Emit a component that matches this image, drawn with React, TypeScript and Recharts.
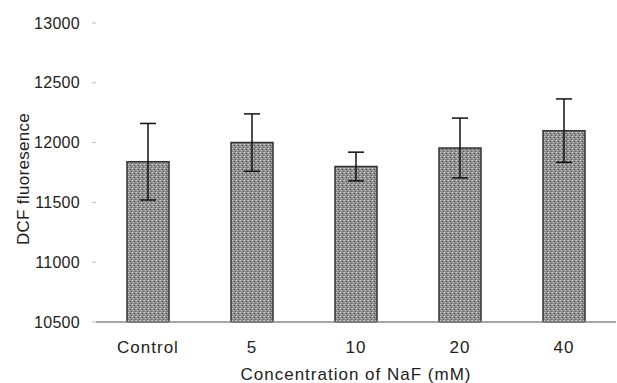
import { BarChart, Bar, XAxis, YAxis, ErrorBar, Label } from 'recharts';

const groups = ['Control', '5', '10', '20', '40'];
const dcf = [11840, 12000, 11800, 11955, 12100];
const sd = [320, 240, 120, 250, 265];
const yTicks = [10500, 11000, 11500, 12000, 12500, 13000];

const data = groups.map((g, i) => ({ name: g, value: dcf[i], err: sd[i] }));

const font = 'Arial, "Liberation Sans", sans-serif';

const yTitle = () => (
  <text
    x={23}
    y={179}
    transform="rotate(-90 23 179)"
    textAnchor="middle"
    dominantBaseline="central"
    fontSize={17}
    letterSpacing={0.3}
    fill="#222"
    fontFamily={font}
  >
    DCF fluoresence
  </text>
);

export default function App() {
  return (
    <div style={{ position: 'absolute', left: 0, top: 0, background: '#fff' }}>
      <BarChart
        width={617}
        height={383}
        data={data}
        margin={{ top: 23, right: 1, bottom: 0, left: 0 }}
        barCategoryGap={31}
      >
        <defs>
          <pattern id="grain" width="4" height="4" patternUnits="userSpaceOnUse">
            <rect width="4" height="4" fill="#8e8e8e" />
            <rect x="0" y="0" width="1" height="1" fill="#d0d0d0" />
            <rect x="2" y="1" width="1" height="1" fill="#555" />
            <rect x="1" y="2" width="1" height="1" fill="#c4c4c4" />
            <rect x="3" y="3" width="1" height="1" fill="#666" />
            <rect x="3" y="0" width="1" height="1" fill="#b0b0b0" />
          </pattern>
        </defs>
        <XAxis
          dataKey="name"
          height={61}
          axisLine={{ stroke: '#888', strokeWidth: 1.5 }}
          tickLine={false}
          tickSize={6}
          tickMargin={13}
          tick={{ fill: '#222', fontSize: 17, fontFamily: font, letterSpacing: 1 }}
        >
          <Label
            value="Concentration of NaF (mM)"
            position="insideBottom"
            offset={3}
            fill="#222"
            fontSize={17}
            letterSpacing={1}
            fontFamily={font}
          />
        </XAxis>
        <YAxis
          width={96}
          domain={[10500, 13000]}
          ticks={yTicks}
          interval={0}
          axisLine={false}
          tickLine={{ stroke: '#bbb' }}
          tickSize={4}
          tickMargin={12}
          tick={{ fill: '#222', fontSize: 16, fontFamily: font, letterSpacing: 0.3 }}
        >
          <Label content={yTitle} />
        </YAxis>
        <Bar
          dataKey="value"
          fill="url(#grain)"
          stroke="#333"
          strokeWidth={1.5}
          isAnimationActive={false}
        >
          <ErrorBar dataKey="err" width={8} stroke="#111" strokeWidth={1.5} />
        </Bar>
      </BarChart>
    </div>
  );
}
